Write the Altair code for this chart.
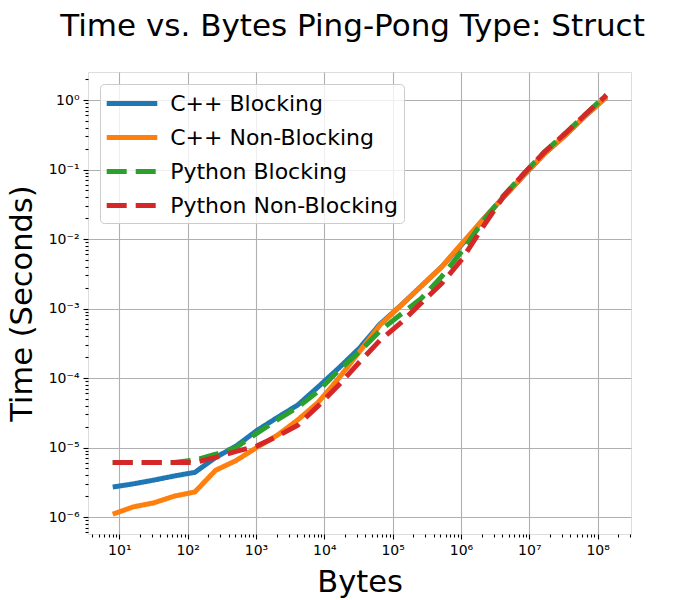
import altair as alt
import pandas as pd

# Message sizes: 2^3 ... 2^27 bytes
bytes_sizes = [8, 16, 32, 64, 128, 256, 512, 1024, 2048, 4096, 8192, 16384, 32768,
               65536, 131072, 262144, 524288, 1048576, 2097152, 4194304, 8388608,
               16777216, 33554432, 67108864, 134217728]

cpp_blocking = [2.7e-6, 3.0e-6, 3.4e-6, 3.9e-6, 4.4e-6, 7.2e-6, 1.05e-5, 1.75e-5,
                2.7e-5, 4.1e-5, 7.5e-5, 1.4e-4, 2.7e-4, 6.0e-4, 1.1e-3, 2.1e-3,
                4.0e-3, 8.5e-3, 1.9e-2, 4.0e-2, 8.3e-2, 0.17, 0.31, 0.60, 1.10]
cpp_nonblocking = [1.1e-6, 1.4e-6, 1.6e-6, 2.0e-6, 2.3e-6, 4.7e-6, 6.5e-6, 1.0e-5,
                   1.5e-5, 2.5e-5, 4.5e-5, 1.0e-4, 2.4e-4, 5.8e-4, 1.1e-3, 2.1e-3,
                   4.0e-3, 8.8e-3, 1.9e-2, 4.0e-2, 8.3e-2, 0.17, 0.31, 0.60, 1.10]
py_blocking = [6.1e-6, 6.1e-6, 6.1e-6, 6.1e-6, 6.6e-6, 8.0e-6, 1.0e-5, 1.6e-5,
               2.5e-5, 3.8e-5, 6.5e-5, 1.3e-4, 2.4e-4, 4.8e-4, 8.2e-4, 1.4e-3,
               2.9e-3, 6.8e-3, 1.8e-2, 4.2e-2, 8.8e-2, 0.18, 0.33, 0.63, 1.19]
py_nonblocking = [6.1e-6, 6.1e-6, 6.1e-6, 6.1e-6, 6.1e-6, 7.2e-6, 8.8e-6, 1.05e-5,
                  1.45e-5, 2.1e-5, 4.0e-5, 8.0e-5, 1.7e-4, 3.5e-4, 6.2e-4, 1.2e-3,
                  2.3e-3, 5.2e-3, 1.5e-2, 4.1e-2, 8.8e-2, 0.18, 0.33, 0.63, 1.17]

series_names = ["C++ Blocking", "C++ Non-Blocking", "Python Blocking", "Python Non-Blocking"]
series_colors = ["#1f77b4", "#ff7f0e", "#2ca02c", "#d62728"]
series_dashes = [[1, 0], [1, 0], [20, 9], [20, 9]]

x_major = [1e1, 1e2, 1e3, 1e4, 1e5, 1e6, 1e7, 1e8]
y_major = [1e-6, 1e-5, 1e-4, 1e-3, 1e-2, 1e-1, 1e0]
x_ticks = [m * 10 ** e for e in range(0, 9) for m in range(1, 10) if 3 <= m * 10 ** e <= 3.1e8]
y_ticks = [m * 10.0 ** e for e in range(-7, 1) for m in range(1, 10) if 5.6e-7 <= m * 10.0 ** e <= 2.5]

rows = []
for name, vals in zip(series_names, [cpp_blocking, cpp_nonblocking, py_blocking, py_nonblocking]):
    for b, t in zip(bytes_sizes, vals):
        rows.append({"Bytes": b, "Time": t, "Series": name})
df = pd.DataFrame(rows)

major_test = "abs(log(datum.value)/LN10 - round(log(datum.value)/LN10)) < 0.001"
label_expr = (major_test + " ? '10' + (datum.value < 1 ? '\u207b' : '') + "
              "['\u2070','\u00b9','\u00b2','\u00b3','\u2074','\u2075','\u2076','\u2077','\u2078','\u2079']"
              "[abs(round(log(datum.value)/LN10))] : ''")

def make_axis(title, values, orient, **kw):
    return alt.Axis(
        title=title, values=values, orient=orient,
        labelExpr=label_expr, labelFont="DejaVu Sans", labelFontSize=14, labelColor="black",
        labelPadding=4, labelFlush=False, labelOverlap=False,
        titleFont="DejaVu Sans", titleFontSize=30.5, titleFontWeight="normal", titleColor="black",
        titleBaseline="alphabetic",
        grid=True, gridColor="#b0b0b0", gridWidth=1.1,
        gridOpacity={"condition": {"test": major_test, "value": 1}, "value": 0},
        tickColor="black", tickWidth=1.1,
        tickSize={"condition": {"test": major_test, "value": 5}, "value": 3},
        domain=False, **kw)

chart = alt.Chart(df).mark_line(strokeWidth=5, clip=True).encode(
    x=alt.X("Bytes:Q",
            scale=alt.Scale(type="log", domain=[3.48, 3.08e8], nice=False),
            axis=make_axis("Bytes", x_ticks, "bottom", titleY=57)),
    y=alt.Y("Time:Q",
            scale=alt.Scale(type="log", domain=[5.7e-7, 2.53], nice=False),
            axis=make_axis("Time (Seconds)", y_ticks, "left", titleX=-57, titleY=231)),
    color=alt.Color("Series:N",
                    scale=alt.Scale(domain=series_names, range=series_colors),
                    legend=alt.Legend(
                        title=None, orient="top-left", offset=12, padding=6,
                        labelFont="DejaVu Sans", labelFontSize=22, labelColor="black",
                        labelLimit=400, labelOffset=24.7, rowPadding=9,
                        symbolType="M-2.3,0H2.3", symbolSize=484, symbolStrokeWidth=5,
                        symbolOffset=12.5,
                        strokeColor="#cccccc", fillColor="rgba(255,255,255,0.8)",
                        cornerRadius=4)),
    strokeDash=alt.StrokeDash("Series:N",
                              scale=alt.Scale(domain=series_names, range=series_dashes),
                              legend=alt.Legend(title=None)),
).properties(
    width=543, height=462,
    title=alt.TitleParams("Time vs. Bytes Ping-Pong Type: Struct", font="DejaVu Sans",
                          fontSize=31, fontWeight="normal", color="black",
                          anchor="middle", dx=-7, dy=25, offset=30, baseline="alphabetic"),
    autosize=alt.AutoSizeParams(type="none"),
    padding={"left": 88, "top": 72, "right": 69, "bottom": 66},
).configure_view(
    stroke="black", strokeWidth=1.1
).configure(background="white")

chart.save("out.html", embed_options={"renderer": "svg", "actions": False})
